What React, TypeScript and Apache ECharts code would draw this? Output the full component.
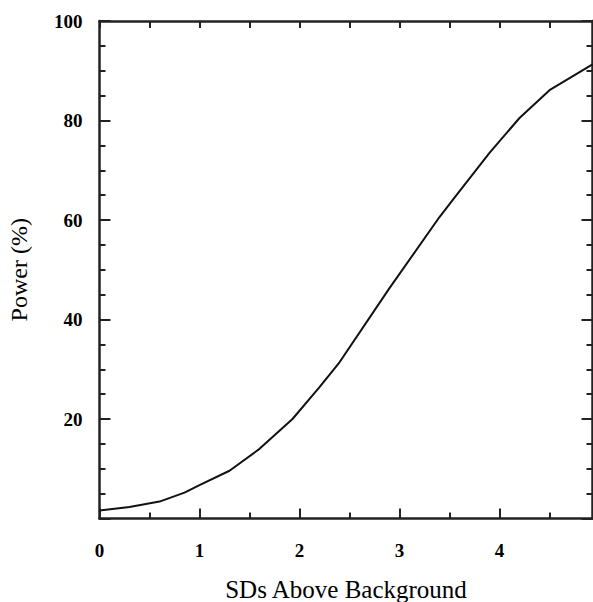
import React, { useEffect, useRef } from "react";
import * as echarts from "echarts";

const sdValues = [0, 0.3, 0.6, 0.85, 1.0, 1.3, 1.6, 1.93, 2.2, 2.4, 2.9, 3.4, 3.55, 3.9, 4.2, 4.5, 4.93];
const powerValues = [1.6, 2.3, 3.4, 5.2, 6.7, 9.6, 14, 20, 26.4, 31.4, 46.3, 60.6, 64.5, 73.5, 80.5, 86.1, 91.3];
const xTitle = "SDs Above Background";
const yTitle = "Power (%)";

export default function App() {
  const ref = useRef<HTMLDivElement>(null);
  useEffect(() => {
    if (!ref.current) return;
    const chart = echarts.init(ref.current, undefined, { renderer: "svg" });
    const axisColor = "#222";
    const labelStyle = {
      fontFamily: "Liberation Serif",
      fontWeight: "bold" as const,
      fontSize: 19,
      color: "#000",
    };
    const xMax = 4.93;
    chart.setOption({
      animation: false,
      backgroundColor: "#fff",
      grid: {
        left: 99.5,
        right: 0.5,
        top: 21,
        bottom: 83.5,
        containLabel: false,
        outerBoundsMode: "none",
      },
      xAxis: [
        {
          type: "value",
          position: "bottom",
          min: 0,
          max: xMax,
          interval: 1,
          name: xTitle,
          nameLocation: "middle",
          nameGap: 58,
          nameTextStyle: { fontFamily: "Liberation Serif", fontSize: 25, color: "#000" },
          axisLine: { show: true, onZero: false, lineStyle: { color: axisColor, width: 2.5 } },
          axisTick: { show: true, inside: true, length: 10, lineStyle: { color: axisColor, width: 2 } },
          minorTick: { show: true, splitNumber: 2, length: 6, lineStyle: { color: axisColor, width: 2 } },
          axisLabel: {
            ...labelStyle,
            margin: 22,
            showMaxLabel: false,
            formatter: (v: number) => (Number.isInteger(v) ? String(v) : ""),
          },
          splitLine: { show: false },
        },
        {
          type: "value",
          position: "top",
          min: 0,
          max: xMax,
          interval: 0.5,
          axisLine: { show: true, onZero: false, lineStyle: { color: axisColor, width: 2.5 } },
          axisTick: { show: true, inside: true, length: 7, lineStyle: { color: axisColor, width: 2 } },
          axisLabel: { show: false },
          splitLine: { show: false },
        },
      ],
      yAxis: [
        {
          type: "value",
          position: "left",
          min: 0,
          max: 100,
          interval: 20,
          name: yTitle,
          nameLocation: "middle",
          nameGap: 69,
          nameTextStyle: { fontFamily: "Liberation Serif", fontSize: 24, color: "#000" },
          axisLine: { show: true, onZero: false, lineStyle: { color: axisColor, width: 2.5 } },
          axisTick: { show: true, inside: true, length: 11, lineStyle: { color: axisColor, width: 2 } },
          minorTick: { show: true, splitNumber: 4, length: 6, lineStyle: { color: axisColor, width: 2 } },
          axisLabel: {
            ...labelStyle,
            margin: 17,
            formatter: (v: number) => (v === 0 ? "" : String(v)),
          },
          splitLine: { show: false },
        },
        {
          type: "value",
          position: "right",
          min: 0,
          max: 100,
          interval: 20,
          axisLine: { show: true, onZero: false, lineStyle: { color: axisColor, width: 2.5 } },
          axisTick: { show: true, inside: true, length: 11, lineStyle: { color: axisColor, width: 2 } },
          minorTick: { show: true, splitNumber: 4, length: 6, lineStyle: { color: axisColor, width: 2 } },
          axisLabel: { show: false },
          splitLine: { show: false },
        },
      ],
      series: [
        {
          type: "line",
          xAxisIndex: 0,
          yAxisIndex: 0,
          data: sdValues.map((x, i) => [x, powerValues[i]]),
          showSymbol: false,
          symbol: "none",
          lineStyle: { color: "#111", width: 2 },
          clip: true,
        },
      ],
    });
    return () => chart.dispose();
  }, []);
  return (
    <div
      ref={ref}
      style={{ position: "fixed", left: 0, top: 0, width: 593, height: 602, background: "#fff" }}
    />
  );
}
